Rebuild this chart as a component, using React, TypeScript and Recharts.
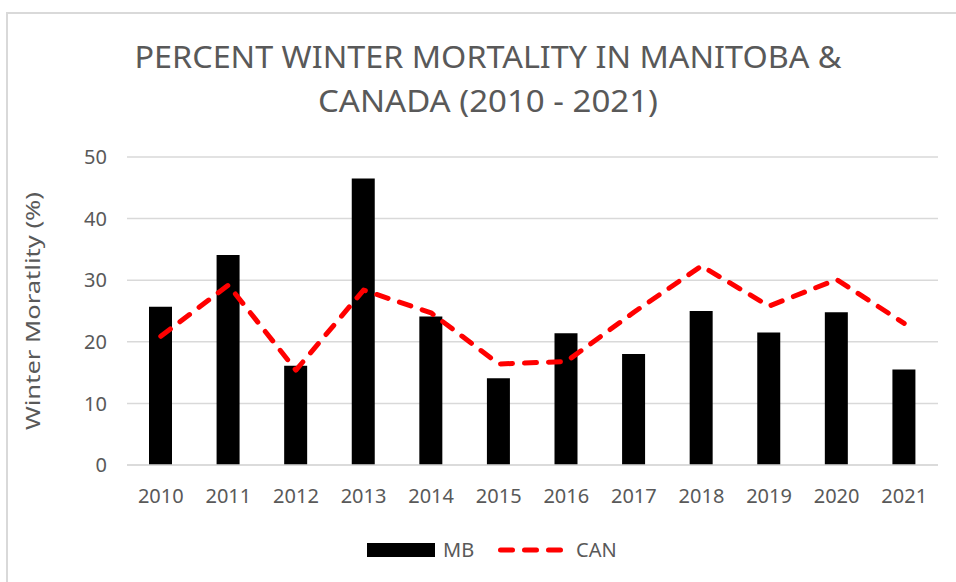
import React from "react";
import { ComposedChart, Bar, Line, XAxis, YAxis, CartesianGrid, Label } from "recharts";

const years = ["2010", "2011", "2012", "2013", "2014", "2015", "2016", "2017", "2018", "2019", "2020", "2021"];
const mbValues = [25.7, 34.1, 16.1, 46.5, 24.1, 14.1, 21.4, 18.0, 25.0, 21.5, 24.8, 15.5];
const canValues = [20.9, 29.2, 15.4, 28.4, 24.7, 16.4, 16.8, 24.8, 32.3, 25.8, 30.1, 23.0];
const yTicks = [0, 10, 20, 30, 40, 50];
const titleLines = ["PERCENT WINTER MORTALITY IN MANITOBA &", "CANADA (2010 - 2021)"];
const seriesNames = { mb: "MB", can: "CAN" };

const data = years.map((year, i) => ({ year, mb: mbValues[i], can: canValues[i] }));

const FONT = "'Noto Sans', 'Open Sans', sans-serif";
const TEXT = "#595959";
const GRID = "#d9d9d9";

const YLabel = ({ viewBox }: any) => {
  const cy = viewBox.y + viewBox.height / 2;
  return (
    <text
      x={40}
      y={cy}
      transform={`rotate(-90, 40, ${cy})`}
      textAnchor="middle"
      fontFamily={FONT}
      fontSize={19}
      fill={TEXT}
      textLength={238}
      lengthAdjust="spacingAndGlyphs"
    >
      Winter Moratlity (%)
    </text>
  );
};

export default function App() {
  return (
    <div style={{ position: "fixed", left: 0, top: 0, width: 956, height: 582, overflow: "hidden", background: "#fff" }}>
      <div
        style={{
          position: "absolute",
          left: 6,
          top: 12,
          width: 1000,
          height: 700,
          borderTop: `2px solid ${GRID}`,
          borderLeft: `2px solid ${GRID}`,
        }}
      />
      <div style={{ position: "absolute", left: 0, top: 0 }}>
        <ComposedChart
          width={956}
          height={582}
          data={data}
          margin={{ top: 157, right: 18, bottom: 77, left: 0 }}
        >
          <CartesianGrid vertical={false} stroke={GRID} strokeWidth={1.5} />
          <XAxis
            dataKey="year"
            height={40}
            tickLine={false}
            axisLine={{ stroke: GRID, strokeWidth: 1.5 }}
            tickSize={0}
            tickMargin={24}
            tick={{ fontFamily: FONT, fontSize: 20, fill: TEXT }}
          />
          <YAxis
            width={127}
            domain={[0, 50]}
            ticks={yTicks}
            tickLine={false}
            axisLine={false}
            tickSize={0}
            tickMargin={20}
            tick={{ fontFamily: FONT, fontSize: 20, fill: TEXT }}
          >
            <Label content={<YLabel />} />
          </YAxis>
          <Bar dataKey="mb" name={seriesNames.mb} fill="#000" barSize={23} isAnimationActive={false} />
          <Line
            dataKey="can"
            name={seriesNames.can}
            stroke="#ff0000"
            strokeWidth={5}
            strokeDasharray="12 12"
            strokeLinecap="round"
            strokeLinejoin="round"
            dot={false}
            activeDot={false}
            type="linear"
            isAnimationActive={false}
          />
        </ComposedChart>
      </div>
      <svg width={956} height={582} style={{ position: "absolute", left: 0, top: 0, pointerEvents: "none" }}>
        <text
          x={488}
          y={68}
          textAnchor="middle"
          fontFamily={FONT}
          fontSize={31}
          fill={TEXT}
          textLength={707}
          lengthAdjust="spacingAndGlyphs"
        >
          {titleLines[0]}
        </text>
        <text
          x={488}
          y={112}
          textAnchor="middle"
          fontFamily={FONT}
          fontSize={31}
          fill={TEXT}
          textLength={340}
          lengthAdjust="spacingAndGlyphs"
        >
          {titleLines[1]}
        </text>
        <rect x={367} y={543} width={68} height={14} fill="#000" />
        <text x={443} y={557} fontFamily={FONT} fontSize={20} fill={TEXT}>
          {seriesNames.mb}
        </text>
        <line
          x1={500.5}
          y1={550}
          x2={560.5}
          y2={550}
          stroke="#ff0000"
          strokeWidth={5}
          strokeDasharray="12 12"
          strokeLinecap="round"
        />
        <text x={576} y={557} fontFamily={FONT} fontSize={20} fill={TEXT}>
          {seriesNames.can}
        </text>
      </svg>
    </div>
  );
}
